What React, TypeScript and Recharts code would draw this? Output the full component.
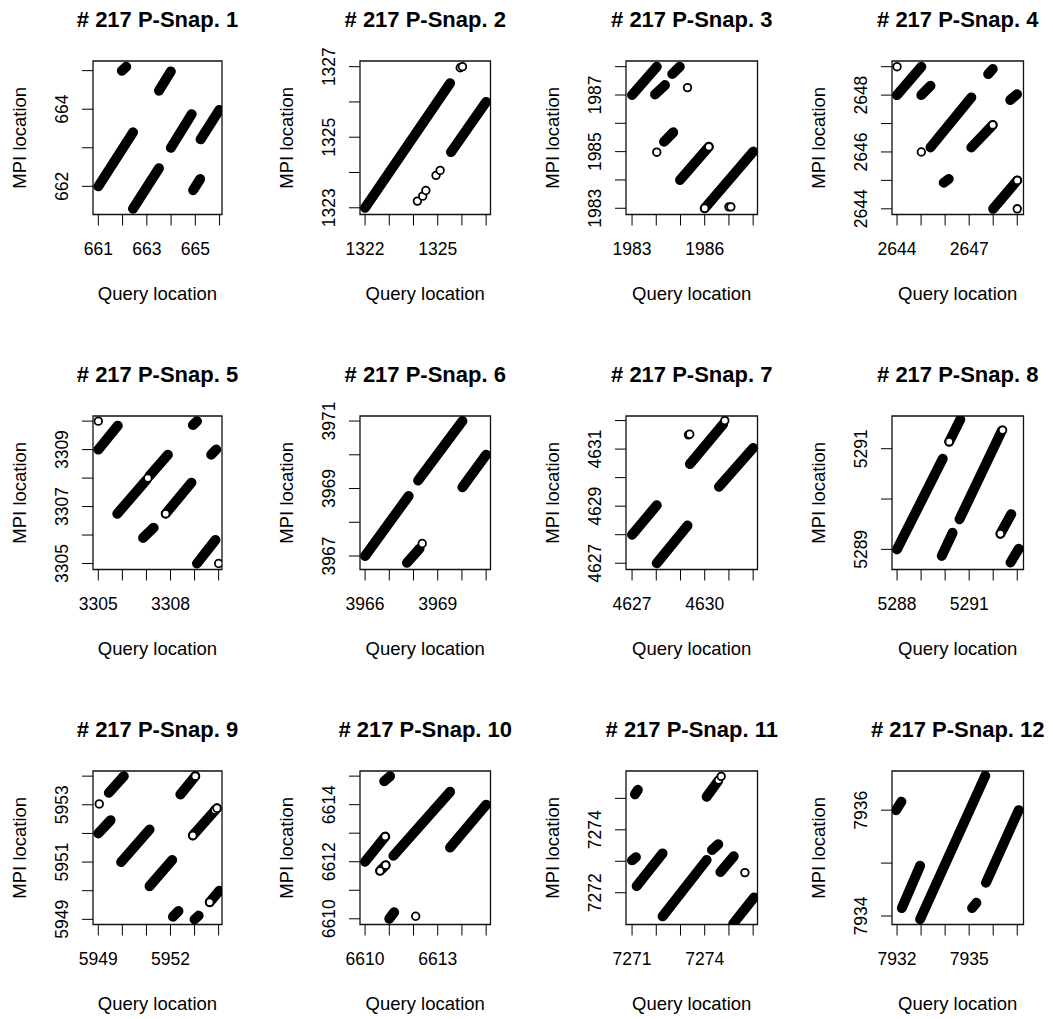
import React from "react";
import { ScatterChart, Scatter, XAxis, YAxis, ReferenceArea } from "recharts";

// one entry per panel
const titles = [
  "# 217 P-Snap. 1", "# 217 P-Snap. 2", "# 217 P-Snap. 3", "# 217 P-Snap. 4",
  "# 217 P-Snap. 5", "# 217 P-Snap. 6", "# 217 P-Snap. 7", "# 217 P-Snap. 8",
  "# 217 P-Snap. 9", "# 217 P-Snap. 10", "# 217 P-Snap. 11", "# 217 P-Snap. 12",
];

const xDomains = [
  [660.78, 666.1], [1321.79, 1327.18], [1982.75, 1988.18], [2643.79, 2649.26],
  [3304.78, 3310.14], [3965.79, 3971.18], [4626.75, 4632.18], [5287.79, 5293.26],
  [5948.78, 5954.14], [6609.79, 6615.18], [7270.75, 7276.18], [7931.79, 7937.26],
];

const yDomains = [
  [661.27, 665.25], [1322.81, 1327.16], [1982.78, 1988.2], [2643.8, 2649.2],
  [3304.79, 3310.18], [3966.6, 3971.15], [4626.78, 4632.16], [5288.6, 5291.65],
  [5948.82, 5954.18], [6609.8, 6615.18], [7270.99, 7275.87], [7933.84, 7936.74],
];

const xTicks = [
  [661, 662, 663, 664, 665, 666], [1322, 1323, 1324, 1325, 1326, 1327],
  [1983, 1984, 1985, 1986, 1987, 1988], [2644, 2645, 2646, 2647, 2648, 2649],
  [3305, 3306, 3307, 3308, 3309, 3310], [3966, 3967, 3968, 3969, 3970, 3971],
  [4627, 4628, 4629, 4630, 4631, 4632], [5288, 5289, 5290, 5291, 5292, 5293],
  [5949, 5950, 5951, 5952, 5953, 5954], [6610, 6611, 6612, 6613, 6614, 6615],
  [7271, 7272, 7273, 7274, 7275, 7276], [7932, 7933, 7934, 7935, 7936, 7937],
];

const xTickLabels = [
  [661, 663, 665], [1322, 1325], [1983, 1986], [2644, 2647],
  [3305, 3308], [3966, 3969], [4627, 4630], [5288, 5291],
  [5949, 5952], [6610, 6613], [7271, 7274], [7932, 7935],
];

const yTicks = [
  [662, 663, 664, 665], [1323, 1324, 1325, 1326, 1327],
  [1983, 1984, 1985, 1986, 1987, 1988], [2644, 2645, 2646, 2647, 2648, 2649],
  [3305, 3306, 3307, 3308, 3309, 3310], [3967, 3968, 3969, 3970, 3971],
  [4627, 4628, 4629, 4630, 4631, 4632], [5289, 5290, 5291],
  [5949, 5950, 5951, 5952, 5953, 5954], [6610, 6611, 6612, 6613, 6614, 6615],
  [7272, 7273, 7274, 7275], [7934, 7935, 7936],
];

const yTickLabels = [
  [662, 664], [1323, 1325, 1327], [1983, 1985, 1987], [2644, 2646, 2648],
  [3305, 3307, 3309], [3967, 3969, 3971], [4627, 4629, 4631], [5289, 5291],
  [5949, 5951, 5953], [6610, 6612, 6614], [7272, 7274], [7934, 7936],
];

// runs of matches: [queryStart, mpiStart, queryEnd, mpiEnd]
const segments = [
  [[661.0, 662.0, 662.43, 663.4], [661.97, 665.0, 662.15, 665.1], [662.43, 661.42, 663.5, 662.47],
   [663.5, 664.48, 663.99, 664.98], [663.99, 663.0, 664.85, 663.87], [664.91, 661.9, 665.2, 662.19],
   [665.22, 663.22, 665.99, 663.98]],
  [[1322.0, 1323.0, 1325.51, 1326.53], [1325.55, 1324.58, 1327.0, 1326.0]],
  [[1983.0, 1987.0, 1984.02, 1988.0], [1983.95, 1987.02, 1984.36, 1987.35], [1984.66, 1987.74, 1984.97, 1988.0],
   [1984.32, 1985.35, 1984.7, 1985.68], [1984.98, 1984.0, 1986.17, 1985.17], [1986.0, 1983.0, 1988.0, 1985.0]],
  [[2644.0, 2648.0, 2645.01, 2649.0], [2645.01, 2648.0, 2645.39, 2648.33], [2645.39, 2646.16, 2647.09, 2647.92],
   [2645.94, 2644.92, 2646.15, 2645.05], [2647.09, 2646.16, 2647.98, 2646.95], [2647.79, 2648.74, 2647.98, 2648.92],
   [2648.71, 2647.83, 2648.99, 2648.03], [2648.0, 2644.0, 2649.0, 2645.0]],
  [[3305.0, 3309.0, 3305.81, 3309.84], [3308.93, 3309.86, 3309.1, 3310.0], [3309.69, 3308.82, 3309.9, 3309.0],
   [3305.79, 3306.75, 3307.0, 3307.93], [3307.12, 3308.07, 3307.89, 3308.82], [3307.8, 3306.75, 3308.87, 3307.84],
   [3306.86, 3305.9, 3307.3, 3306.26], [3309.1, 3305.0, 3309.87, 3305.83]],
  [[3966.0, 3967.0, 3967.8, 3968.78], [3968.19, 3969.24, 3970.02, 3971.0], [3970.02, 3969.04, 3971.0, 3970.0],
   [3967.73, 3966.8, 3968.25, 3967.22]],
  [[4627.0, 4628.0, 4628.02, 4629.03], [4628.02, 4627.0, 4629.29, 4628.32], [4629.39, 4630.48, 4630.76, 4631.87],
   [4630.59, 4629.68, 4632.0, 4631.04]],
  [[5288.0, 5289.0, 5289.9, 5290.8], [5290.17, 5291.14, 5290.63, 5291.58], [5289.86, 5288.87, 5290.31, 5289.33],
   [5290.6, 5289.6, 5292.36, 5291.36], [5292.3, 5289.31, 5292.75, 5289.7], [5292.72, 5288.74, 5293.06, 5289.01]],
  [[5949.44, 5953.42, 5950.06, 5954.0], [5949.0, 5952.0, 5949.51, 5952.46], [5949.95, 5951.0, 5951.13, 5952.14],
   [5951.13, 5950.16, 5952.07, 5951.07], [5952.41, 5953.36, 5953.03, 5954.0], [5952.93, 5951.93, 5953.93, 5952.88],
   [5952.1, 5949.09, 5952.33, 5949.29], [5953.0, 5949.0, 5953.17, 5949.13], [5953.63, 5949.6, 5954.03, 5950.0]],
  [[6610.79, 6614.82, 6611.03, 6615.0], [6610.0, 6612.0, 6610.83, 6612.88], [6611.17, 6612.21, 6613.51, 6614.45],
   [6613.51, 6612.5, 6615.0, 6614.0], [6611.0, 6610.0, 6611.2, 6610.23], [6610.62, 6611.68, 6610.85, 6611.88]],
  [[7271.12, 7275.13, 7271.24, 7275.27], [7271.0, 7273.03, 7271.16, 7273.13], [7271.19, 7272.21, 7272.26, 7273.25],
   [7272.26, 7271.25, 7274.08, 7273.04], [7274.08, 7275.05, 7274.55, 7275.55], [7274.3, 7273.36, 7274.56, 7273.54],
   [7274.65, 7272.66, 7275.2, 7273.16], [7275.18, 7271.02, 7276.04, 7271.85]],
  [[7931.96, 7936.0, 7932.18, 7936.16], [7932.2, 7934.15, 7932.96, 7934.95], [7932.96, 7933.94, 7935.67, 7936.65],
   [7935.12, 7934.15, 7935.3, 7934.25], [7935.7, 7934.63, 7937.06, 7936.0]],
];

// single (open) points
const openPoints = [
  [],
  [[1325.93, 1326.97], [1326.02, 1327.0], [1324.16, 1323.19], [1324.38, 1323.33], [1324.51, 1323.49],
   [1324.93, 1323.92], [1325.1, 1324.06]],
  [[1985.29, 1987.26], [1984.02, 1984.98], [1986.17, 1985.17], [1987.0, 1983.05], [1987.08, 1983.05], [1986.0, 1983.0]],
  [[2644.0, 2649.0], [2645.01, 2646.0], [2647.98, 2646.95], [2649.0, 2645.0], [2649.0, 2644.0]],
  [[3305.0, 3310.0], [3307.06, 3308.0], [3307.8, 3306.75], [3310.0, 3305.0]],
  [[3968.36, 3967.37]],
  [[4630.83, 4632.0], [4629.33, 4631.5], [4629.38, 4631.52]],
  [[5290.17, 5291.14], [5292.39, 5291.37], [5292.3, 5289.31]],
  [[5949.04, 5953.03], [5953.03, 5954.0], [5952.93, 5951.93], [5953.84, 5952.82], [5953.93, 5952.88], [5953.63, 5949.6]],
  [[6610.83, 6612.88], [6610.62, 6611.68], [6610.85, 6611.88], [6612.09, 6610.09]],
  [[7274.57, 7275.58], [7274.68, 7275.7], [7275.66, 7272.64]],
  [],
];

const BOX_LEFT = [92.5, 359.5, 625.5, 892.3];
const BOX_W = [129, 130.5, 131.5, 131.5];
const BOX_TOP = [61, 416.3, 771.3];
const BOX_H = 153.5;
const AXIS_W = 95;
const AXIS_H = 135;
const PAD_R = 30;
const PAD_T = 61;

function Panel({ i }: { i: number }) {
  const col = i % 4;
  const row = Math.floor(i / 4);
  const bw = BOX_W[col];
  const w = AXIS_W + bw + PAD_R;
  const h = PAD_T + BOX_H + AXIS_H;
  const [x0, x1] = xDomains[i];
  const [y0, y1] = yDomains[i];

  const xTick = (p: any) =>
    xTickLabels[i].includes(p.payload.value) ? (
      <text x={p.x} y={p.y + 29.7} textAnchor="middle" fontSize={17.5} fill="#000">
        {p.payload.value}
      </text>
    ) : (
      <g />
    );
  const yTick = (p: any) =>
    yTickLabels[i].includes(p.payload.value) ? (
      <text
        transform={`translate(${p.x - 14.5},${p.y}) rotate(-90)`}
        textAnchor="middle"
        fontSize={17.5}
        fill="#000"
      >
        {p.payload.value}
      </text>
    ) : (
      <g />
    );

  return (
    <div style={{ position: "absolute", left: BOX_LEFT[col] - AXIS_W, top: BOX_TOP[row] - PAD_T, width: w, height: h }}>
      <ScatterChart width={w} height={h} margin={{ top: PAD_T, right: PAD_R, bottom: 0, left: 0 }}>
        <XAxis
          type="number"
          dataKey="x"
          domain={[x0, x1]}
          allowDataOverflow
          ticks={xTicks[i]}
          interval={0}
          height={AXIS_H}
          tickSize={11}
          tickMargin={0}
          axisLine={false}
          stroke="#000"
          tick={xTick}
        />
        <YAxis
          type="number"
          dataKey="y"
          domain={[y0, y1]}
          allowDataOverflow
          ticks={yTicks[i]}
          interval={0}
          width={AXIS_W}
          tickSize={11}
          tickMargin={0}
          axisLine={false}
          stroke="#000"
          tick={yTick}
        />
        <ReferenceArea x1={x0} x2={x1} y1={y0} y2={y1} fill="none" stroke="#111" strokeWidth={1.3} ifOverflow="visible" />
        {segments[i].map((s, k) => (
          <Scatter
            key={k}
            data={[{ x: s[0], y: s[1] }, { x: s[2], y: s[3] }]}
            fill="#000"
            line={{ stroke: "#000", strokeWidth: 10, strokeLinecap: "round" }}
            shape={() => <g />}
            isAnimationActive={false}
          />
        ))}
        <Scatter
          data={openPoints[i].map(([x, y]) => ({ x, y }))}
          fill="#fff"
          shape={(p: any) => <circle cx={p.cx} cy={p.cy} r={3.8} fill="#fff" stroke="#000" strokeWidth={1.8} />}
          isAnimationActive={false}
        />
      </ScatterChart>
      <svg style={{ position: "absolute", left: 0, top: 0, pointerEvents: "none" }} width={w} height={h}>
        <text x={AXIS_W + bw / 2} y={PAD_T - 34.3} textAnchor="middle" fontSize={22} fontWeight="bold" fill="#000">
          {titles[i]}
        </text>
        <text x={AXIS_W + bw / 2} y={PAD_T + BOX_H + 85} textAnchor="middle" fontSize={18.5} fill="#000">
          Query location
        </text>
        <text
          transform={`translate(${AXIS_W - 67},${PAD_T + BOX_H / 2}) rotate(-90)`}
          textAnchor="middle"
          fontSize={18.5}
          fill="#000"
        >
          MPI location
        </text>
      </svg>
    </div>
  );
}

export default function App() {
  return (
    <div
      style={{
        position: "absolute",
        left: 0,
        top: 0,
        width: 1053,
        height: 1019,
        background: "#fff",
        overflow: "hidden",
        fontFamily: "'Liberation Sans', Arial, sans-serif",
      }}
    >
      {titles.map((_, i) => (
        <Panel key={i} i={i} />
      ))}
    </div>
  );
}
